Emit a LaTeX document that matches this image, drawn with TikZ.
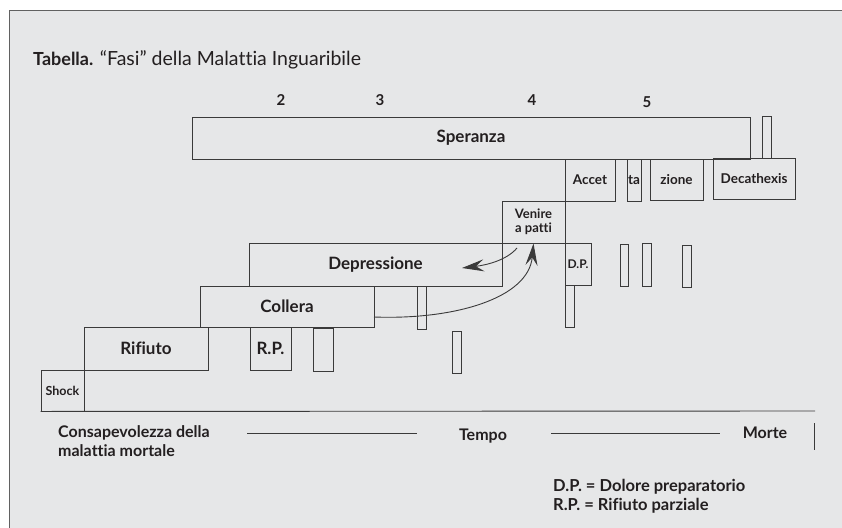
\documentclass[tikz,border=0pt]{standalone}
\usepackage{fontspec}
\setmainfont{Lato}[Ligatures=NoCommon]
\usetikzlibrary{arrows.meta}
\definecolor{sfondo}{HTML}{E6E7E8}
\definecolor{linea}{HTML}{3A3A3A}
\definecolor{testo}{HTML}{231F20}

\begin{document}
\begin{tikzpicture}[x=1pt, y=-1pt,
    fase/.style 2 args={draw=linea, line width=0.9pt, inner sep=0pt, minimum width=#1pt, minimum height=#2pt, text=testo, font=\bfseries\fontsize{17}{18}\selectfont},
    piccola/.style={font=\bfseries\fontsize{13.5}{14}\selectfont},
    minima/.style={font=\bfseries\fontsize{12.5}{13}\selectfont},
    numero/.style={text=testo, font=\bfseries\fontsize{15}{16}\selectfont},
    scritta/.style={text=testo, font=\bfseries\fontsize{16}{19}\selectfont, inner sep=0pt},
    legenda/.style={scritta, anchor=west, font=\bfseries\fontsize{16.5}{19}\selectfont},
    asse/.style={draw=linea, line width=0.9pt},
    curva/.style={draw=linea, line width=0.9pt, -{Stealth[length=22pt, width=12pt, inset=8pt]}}]
    \useasboundingbox (0,0) rectangle (842,527);
    \fill[white] (0,0) rectangle (842,527);
    \draw[fill=sfondo, draw=linea!80, line width=1pt] (9,11) rectangle (860,545);

    \node[anchor=base west, inner sep=0pt, text=testo, font=\fontsize{19.5}{20}\selectfont] (titolo) at (33,65) {{\bfseries\fontsize{18}{20}\selectfont Tabella.} “Fasi” della Malattia Inguaribile};

    \node[numero] (n2) at (281,100) {2};
    \node[numero] (n3) at (380,100) {3};
    \node[numero] (n4) at (532,100) {4};
    \node[numero] (n5) at (647,102) {5};

    \node[fase={558}{42}] (sper) at (471,138) {Speranza};
    \node[fase={9}{42}] (sperb) at (766.5,137) {};
    \node[fase={50}{42}, piccola] (accet) at (590,180) {Accet};
    \node[fase={14}{42}, piccola] (ta) at (634,180) {ta};
    \node[fase={53}{41}, piccola] (zione) at (676.5,179.5) {zione};
    \node[fase={82}{41}, piccola] (decat) at (754,178.5) {Decathexis};
    \node[fase={63}{42}, align=center, font=\bfseries\fontsize{13}{14}\selectfont] (venire) at (533.5,222) {Venire\\a patti};
    \node[fase={26}{42}, font=\bfseries\fontsize{12}{13}\selectfont] (dp) at (578,264) {D.P.};
    \node[fase={9}{42}] (dpb) at (569.5,306) {};
    \node[fase={8}{42}] (t1) at (624,265) {};
    \node[fase={9}{43}] (t2) at (646.5,264.5) {};
    \node[fase={9}{42}] (t3) at (686.5,266) {};
    \node[fase={253}{43}] (depr) at (375.5,264.5) {Depressione};
    \node[fase={174}{41}] (coll) at (287,306.5) {Collera};
    \node[fase={9}{43}] (collb) at (421.5,307.5) {};
    \node[fase={124}{43}] (rif) at (146,348.5) {Rifiuto};
    \node[fase={41}{43}] (rp) at (270.5,348.5) {R.P.};
    \node[fase={20}{43}] (rpb) at (323,349.5) {};
    \node[fase={9}{42}] (bassa) at (456.5,352) {};
    \node[fase={43}{41}, minima] (shock) at (62.5,390.5) {Shock};

    \coordinate (fine) at (815,411);
    \draw[asse] (shock.south west) -- (fine);

    \coordinate (a1) at (517,248);
    \coordinate (a1e) at (462,268);
    \coordinate (a2) at (374,317);
    \draw[curva] (a1) .. controls +(-10,12) and +(25,-3) .. (a1e);
    \draw[curva] (a2) .. controls +(80,3) and +(-5,55) .. (venire.south);

    \node[scritta, anchor=north west, align=left] (consap) at (58,425) {Consapevolezza della\\malattia mortale};
    \node[scritta] (tempo) at (483,436) {Tempo};
    \node[scritta] (morte) at (765,433) {Morte};
    \coordinate (l1a) at (247,433);
    \coordinate (l1b) at (417,433);
    \coordinate (l2a) at (551,433);
    \coordinate (l2b) at (720,433);
    \coordinate (ba) at (814,423);
    \coordinate (bb) at (814,450);
    \draw[asse] (l1a) -- (l1b);
    \draw[asse] (l2a) -- (l2b);
    \draw[asse] (ba) -- (bb);

    \node[legenda] (leg1) at (553,487) {D.P. = Dolore preparatorio};
    \node[legenda] (leg2) at (553,506) {R.P. = Rifiuto parziale};
\end{tikzpicture}
\end{document}
